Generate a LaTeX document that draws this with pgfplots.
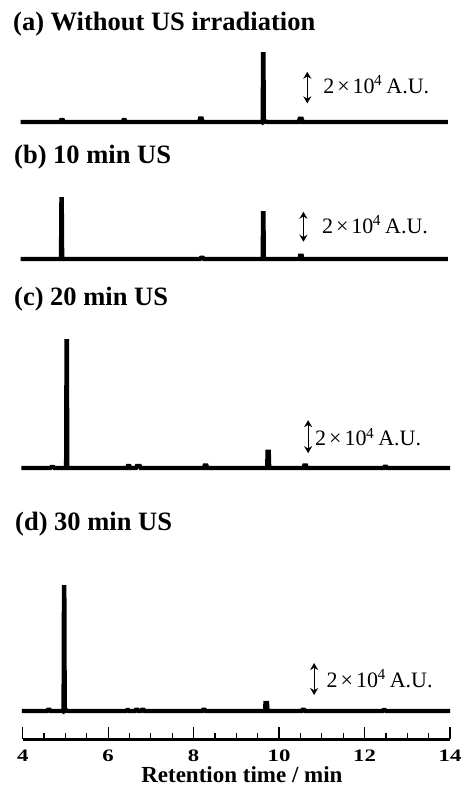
\documentclass[border=0pt]{standalone}
\usepackage{fontspec}
\setmainfont{Liberation Serif}
\usepackage{graphicx}
\usepackage{pgfplots}
\pgfplotsset{compat=1.18}
\usetikzlibrary{arrows.meta}

\pgfplotstableread{
x y
3.95 0
4.88 0
4.90 0.13
4.94 0.13
4.96 0
6.34 0
6.36 0.13
6.39 0.13
6.41 0
8.13 0
8.15 0.22
8.19 0.22
8.21 0
9.615 0
9.625 4.29
9.635 4.29
9.645 0
9.68 0.05
9.72 0
10.46 0
10.48 0.2
10.53 0.2
10.55 0
13.95 0
}\tracea

\pgfplotstableread{
x y
3.95 0
4.895 0
4.905 3.98
4.915 3.98
4.925 0
8.15 0
8.17 0.08
8.22 0.08
8.24 0
9.615 0
9.625 3.05
9.635 3.05
9.645 0
10.48 0
10.49 0.22
10.53 0.22
10.54 0
13.95 0
}\traceb

\pgfplotstableread{
x y
3.97 0
4.65 0
4.67 0.06
4.72 0.06
4.74 0
5.015 0
5.025 7.68
5.035 7.68
5.045 0
6.44 0
6.46 0.12
6.50 0.12
6.52 0
6.65 0
6.67 0.12
6.74 0.12
6.76 0
8.24 0
8.26 0.16
8.30 0.16
8.32 0
9.72 0
9.73 0.98
9.76 0.98
9.77 0
10.57 0
10.59 0.16
10.63 0.16
10.65 0
12.45 0
12.47 0.08
12.51 0.08
12.53 0
14.00 0
}\tracec

\pgfplotstableread{
x y
3.98 0
4.57 0
4.59 0.08
4.63 0.08
4.65 0
4.955 0
4.965 7.73
4.975 7.73
4.985 0
5.02 0.05
5.05 0
6.42 0
6.44 0.06
6.47 0.06
6.49 0
6.63 0
6.65 0.08
6.69 0.08
6.71 0
6.77 0
6.79 0.08
6.83 0.08
6.85 0
8.20 0
8.22 0.08
8.26 0.08
8.28 0
9.67 0
9.68 0.5
9.72 0.5
9.73 0
10.53 0
10.55 0.08
10.59 0.08
10.61 0
12.42 0
12.44 0.06
12.48 0.06
12.50 0
14.00 0
}\traced

\newcommand\tl[1]{\scalebox{1.3}[1]{\fontsize{17.5pt}{18pt}\selectfont\bfseries #1}}
\newcommand\sbar{\fontsize{22pt}{24pt}\selectfont 2\kern3pt×\kern3pt10\textsuperscript{\kern-0.5pt 4}\kern4pt A.U.}

\tikzset{
  tr/.style={black, line width=4.2pt, line join=miter, line cap=butt},
  sb/.style={{Stealth[length=7pt,width=8pt]}-{Stealth[length=7pt,width=8pt]}, line width=1.2pt},
}
\pgfplotsset{
  trace/.style={
    anchor=south west, x=42.73pt, xmin=4, xmax=14, ymin=0, ymax=8,
    hide axis, clip=false,
  },
}

\begin{document}
\begin{tikzpicture}
\useasboundingbox (0,0) rectangle (462pt,-787pt);

% titles
\tikzset{ttl/.style={anchor=base west, inner sep=0pt, font=\fontsize{26.5pt}{30pt}\selectfont\bfseries}}
\node[ttl] at (13pt,-30.7pt) {(a) Without US irradiation};
\node[ttl] at (14pt,-163.3pt) {(b) 10 min US};
\node[ttl] at (14pt,-305pt) {(c) 20 min US};
\node[ttl] at (15pt,-530pt) {(d) 30 min US};

% (a)
\begin{axis}[trace, at={(22.7pt,-122pt)}, y=15.8pt]
\addplot[tr] table {\tracea};
\draw[sb] (axis cs:10.66,1.18) -- (axis cs:10.66,3.18);
\node[anchor=base west, inner sep=0pt] at (axis cs:11.03,1.82) {\sbar};
\end{axis}

% (b)
\begin{axis}[trace, at={(22.7pt,-259pt)}, y=15pt]
\addplot[tr] table {\traceb};
\draw[sb] (axis cs:10.57,1.15) -- (axis cs:10.57,3.15);
\node[anchor=base west, inner sep=0pt] at (axis cs:11.0,1.71) {\sbar};
\end{axis}

% (c)
\begin{axis}[trace, at={(22.7pt,-468pt)}, y=16.5pt]
\addplot[tr] table {\tracec};
\draw[sb] (axis cs:10.68,0.9) -- (axis cs:10.68,2.9);
\node[anchor=base west, inner sep=0pt] at (axis cs:10.84,1.35) {\sbar};
\end{axis}

% (d)
\begin{axis}[trace, at={(22.7pt,-711pt)}, y=16pt]
\addplot[tr] table {\traced};
\draw[sb] (axis cs:10.82,1.0) -- (axis cs:10.82,3.0);
\node[anchor=base west, inner sep=0pt] at (axis cs:11.11,1.48) {\sbar};
\end{axis}

% bottom axis
\begin{axis}[
  at={(22.7pt,-739.3pt)}, anchor=south west,
  width=427.3pt, height=20pt, scale only axis,
  xmin=4, xmax=14, ymin=0, ymax=1,
  axis x line*=bottom, axis y line=none,
  xtick={4,6,8,10,12,14},
  xticklabels={\tl{4},\tl{6},\tl{8},\tl{10},\tl{12},\tl{14}},
  minor x tick num=3,
  xtick align=inside,
  major tick length=12.6pt, minor tick length=6.6pt,
  axis line style={line width=2.6pt, black},
  every tick/.style={line width=1.2pt, black},
  xticklabel style={anchor=base, inner sep=0pt, yshift=-22pt},
  xlabel={Retention time / min},
  xlabel style={at={(axis cs:9.13,0)}, anchor=base, inner sep=0pt, yshift=-43pt,
    font=\fontsize{23pt}{26pt}\selectfont\bfseries},
]
\addplot[draw=none] coordinates {(4,0)};
\end{axis}
\end{tikzpicture}
\end{document}
